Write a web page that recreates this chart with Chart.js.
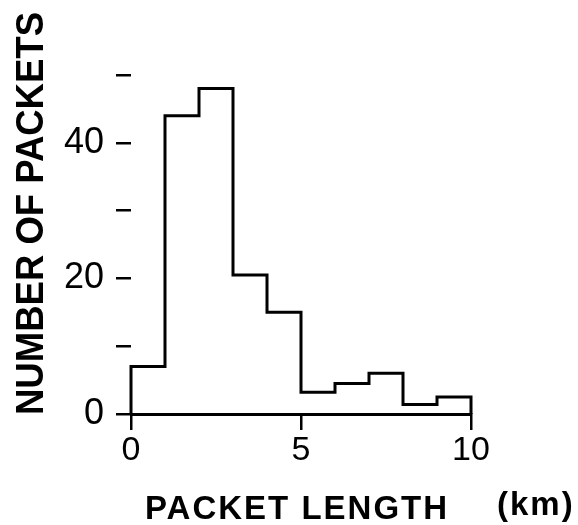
<!DOCTYPE html>
<html><head><meta charset="utf-8">
<script src="https://cdn.jsdelivr.net/npm/chart.js@4.4.1/dist/chart.umd.min.js"></script>
<style>html,body{margin:0;padding:0;background:#fff;} canvas{display:block;}</style>
</head><body>
<canvas id="c" width="578" height="525"></canvas>
<script>
// ---- data ----
const binEdges = [0, 1, 2, 3, 4, 5, 6, 7, 8, 9, 10];
const packetCounts = [7, 44, 48, 20.5, 15, 3.2, 4.5, 6, 1.4, 2.5];
const xTickStep = 5;
const yTickStep = 10;
const yLabelEvery = 20;
const xTitle = 'PACKET LENGTH';
const xUnit = '(km)';
const yTitle = 'NUMBER OF PACKETS';

// histogram outline built from bins
const outline = [{x: binEdges[0], y: 0}];
packetCounts.forEach((c, i) => outline.push({x: binEdges[i], y: c}));
outline.push({x: binEdges[binEdges.length - 1], y: 0});

const FONT = '"Liberation Sans", Arial, Helvetica, sans-serif';

const axisTitles = {
  id: 'axisTitles',
  afterDraw(chart) {
    const ctx = chart.ctx;
    ctx.save();
    ctx.fillStyle = '#000';
    ctx.textAlign = 'left';
    ctx.textBaseline = 'alphabetic';
    ctx.font = 'bold 33px ' + FONT;
    ctx.letterSpacing = '2px';
    ctx.fillText(xTitle, 145, 519);
    ctx.fillText(xUnit, 497, 515);
    ctx.letterSpacing = '0px';
    ctx.translate(43, 415);
    ctx.rotate(-Math.PI / 2);
    ctx.font = 'bold 38px ' + FONT;
    const w = ctx.measureText(yTitle).width;
    ctx.scale(403 / w, 1);
    ctx.fillText(yTitle, 0, 0);
    ctx.restore();
  }
};

new Chart(document.getElementById('c'), {
  type: 'line',
  data: {
    datasets: [{
      data: outline,
      stepped: 'before',
      borderColor: '#000',
      borderWidth: 3,
      borderJoinStyle: 'miter',
      pointRadius: 0,
      fill: false,
      tension: 0,
      clip: false
    }]
  },
  options: {
    responsive: false,
    animation: false,
    devicePixelRatio: 1,
    layout: {padding: {left: 0, top: 75, right: 107, bottom: 0}},
    plugins: {legend: {display: false}, tooltip: {enabled: false}},
    scales: {
      x: {
        type: 'linear', min: 0, max: 10,
        afterFit(s) { s.height = 111; },
        ticks: {stepSize: xTickStep, color: '#000', font: {size: 34, family: FONT}, padding: 0, maxRotation: 0},
        grid: {display: true, drawOnChartArea: false, drawTicks: true, tickLength: 16, color: '#000', lineWidth: 2.5},
        border: {display: true, color: '#000', width: 3}
      },
      y: {
        type: 'linear', min: 0, max: 50,
        afterFit(s) { s.width = 131; },
        ticks: {stepSize: yTickStep, color: '#000', font: {size: 36, family: FONT}, padding: 12,
          callback: v => (v % yLabelEvery === 0 ? String(v) : '')},
        grid: {display: true, drawOnChartArea: false, drawTicks: true, tickLength: 15, color: '#000', lineWidth: 2.5},
        border: {display: false}
      }
    }
  },
  plugins: [axisTitles]
});
</script>
</body></html>
